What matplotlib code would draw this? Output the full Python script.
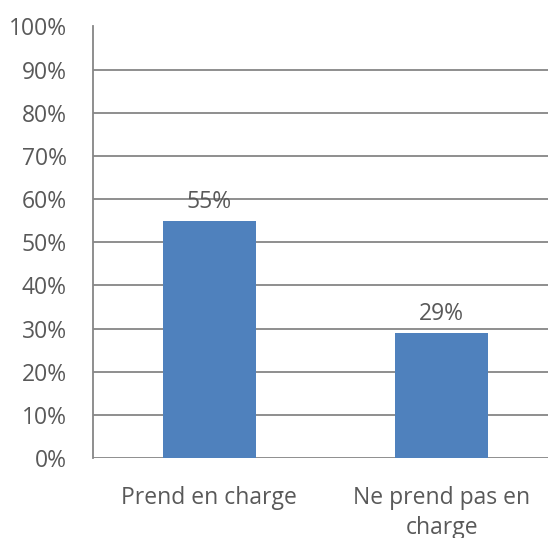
import matplotlib
matplotlib.use("Agg")
import matplotlib.pyplot as plt
from matplotlib.ticker import PercentFormatter

categories = ["Prend en charge", "Ne prend pas en\ncharge"]
values = [55, 29]
yticks = [0, 10, 20, 30, 40, 50, 60, 70, 80, 90, 100]

plt.rcParams['font.family'] = ['Open Sans', 'DejaVu Sans']
W, H = 548, 538
fig = plt.figure(figsize=(W/100, H/100), dpi=100)
left, right, top, bottom = 93, 558, 26.5, 458
ax = fig.add_axes([left/W, 1-bottom/H, (right-left)/W, (bottom-top)/H])

fs = 16.5
x = list(range(len(categories)))
bars = ax.bar(x, values, width=0.4, color="#4F81BD", zorder=3)
ax.set_xlim(-0.5, len(categories)-0.5)
ax.set_ylim(0, 100)
ax.set_yticks(yticks)
ax.yaxis.set_major_formatter(PercentFormatter(decimals=0))
ax.set_xticks(x)
ax.set_xticklabels(categories, linespacing=1.32)
ax.grid(axis='y', color="#868686", linewidth=1.3, zorder=0)
for s in ['top', 'right', 'bottom']:
    ax.spines[s].set_visible(False)
ax.spines['left'].set_color("#868686")
ax.spines['left'].set_linewidth(1.3)
ax.tick_params(axis='both', length=0, labelsize=fs, labelcolor="#595959")
ax.tick_params(axis='y', pad=19)
ax.tick_params(axis='x', pad=20)
for b, v in zip(bars, values):
    ax.annotate(f"{v}%", (b.get_x()+b.get_width()/2, v), xytext=(0, 5),
                textcoords="offset points", ha='center', va='bottom',
                fontsize=fs, color="#595959")
fig.savefig("out.png", dpi=100)
